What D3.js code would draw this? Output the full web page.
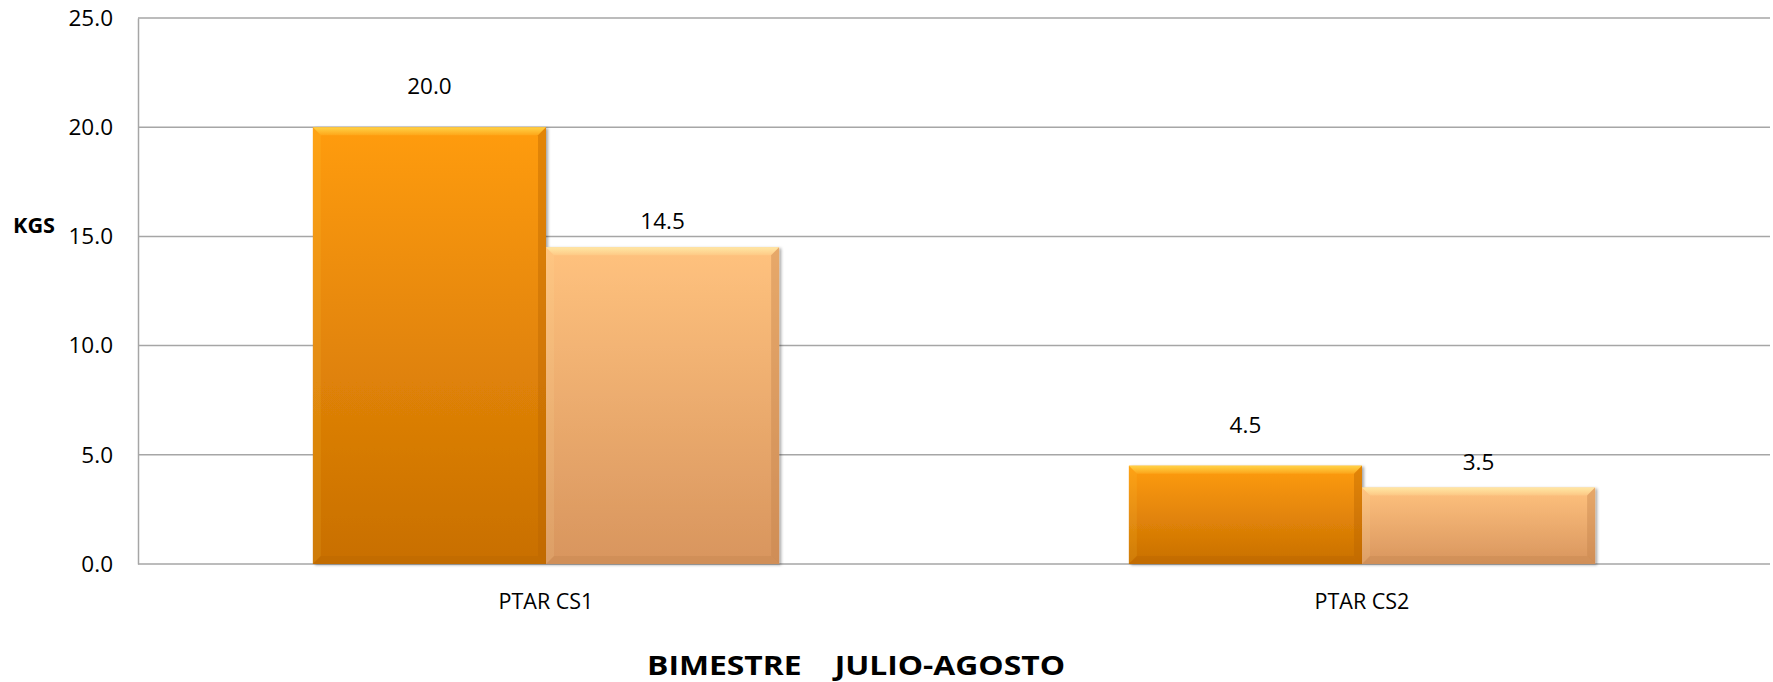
<!DOCTYPE html>
<html>
<head>
<meta charset="utf-8">
<script src="https://cdn.jsdelivr.net/npm/d3@7"></script>
<style>
  html, body { margin: 0; padding: 0; background: #fff; }
  svg { display: block; font-family: "Open Sans", sans-serif; }
</style>
</head>
<body>
<div id="chart"></div>
<script>
const categories = ["PTAR CS1", "PTAR CS2"];
const seriesA = [20.0, 4.5];
const seriesB = [14.5, 3.5];
const yTicks = [0, 5, 10, 15, 20, 25];

const width = 1773;
const height = 682;
const margin = {top: 18, right: 3, bottom: 118, left: 138};

const series = [
    {key: "a", values: seriesA, top: "#ff9c0e", bottom: "#c86f02", hi: "#ffd54a", edge: "#b86400", labelGap: 33},
    {key: "b", values: seriesB, top: "#ffc27e", bottom: "#d8955e", hi: "#ffe9a6", edge: "#c4834c", labelGap: 18}
];

const svg = d3.select("#chart").append("svg")
    .attr("width", width).attr("height", height)
    .attr("viewBox", [0, 0, width, height]);

const defs = svg.append("defs");
series.forEach(s => {
    const grad = defs.append("linearGradient")
        .attr("id", "grad-" + s.key)
        .attr("x1", 0).attr("y1", 0).attr("x2", 0).attr("y2", 1);
    grad.append("stop").attr("offset", "0%").attr("stop-color", s.top);
    grad.append("stop").attr("offset", "100%").attr("stop-color", s.bottom);

    const hiGrad = defs.append("linearGradient")
        .attr("id", "hi-" + s.key)
        .attr("x1", 0).attr("y1", 0).attr("x2", 0).attr("y2", 1);
    hiGrad.append("stop").attr("offset", "0%").attr("stop-color", s.hi).attr("stop-opacity", 0.95);
    hiGrad.append("stop").attr("offset", "100%").attr("stop-color", s.hi).attr("stop-opacity", 0.2);
});
defs.append("filter").attr("id", "shadow")
    .attr("x", "-5%").attr("y", "-5%").attr("width", "115%").attr("height", "115%")
    .append("feDropShadow")
    .attr("dx", 2).attr("dy", 1).attr("stdDeviation", 1.5)
    .attr("flood-color", "#000").attr("flood-opacity", 0.35);

const y = d3.scaleLinear()
    .domain([0, 25])
    .range([height - margin.bottom, margin.top]);

const x0 = d3.scaleBand()
    .domain(categories)
    .range([margin.left, width - margin.right])
    .paddingInner(0.4286)
    .paddingOuter(0.2143);

const x1 = d3.scaleBand()
    .domain(series.map(s => s.key))
    .range([0, x0.bandwidth()]);

// grid
svg.append("g")
    .selectAll("line")
    .data(yTicks)
    .join("line")
    .attr("x1", margin.left).attr("x2", width - margin.right)
    .attr("y1", d => y(d)).attr("y2", d => y(d))
    .attr("stroke", "#a6a6a6").attr("stroke-width", 1.5);

// y axis
const yAxis = svg.append("g")
    .attr("transform", `translate(${margin.left},0)`)
    .call(d3.axisLeft(y).tickValues(yTicks).tickFormat(d3.format(".1f")).tickSize(0).tickPadding(25));
yAxis.select(".domain").attr("stroke", "#a6a6a6").attr("stroke-width", 1.5);
yAxis.selectAll("text")
    .attr("font-family", "Open Sans, sans-serif")
    .attr("font-size", 22.5)
    .attr("fill", "#000");

svg.append("text")
    .attr("x", 13).attr("y", 233)
    .attr("font-size", 21).attr("font-weight", "bold")
    .attr("textLength", 42).attr("lengthAdjust", "spacingAndGlyphs")
    .text("KGS");

// bars
const bev = 8;
const groups = svg.append("g")
    .selectAll("g")
    .data(series)
    .join("g");

groups.each(function (s) {
    const g = d3.select(this);
    const bars = categories.map((c, i) => ({
        cat: c, value: s.values[i],
        x: x0(c) + x1(s.key), w: x1.bandwidth(),
        y: y(s.values[i]), h: y(0) - y(s.values[i])
    }));

    const bar = g.selectAll("g.bar").data(bars).join("g").attr("class", "bar");

    bar.append("rect")
        .attr("x", d => d.x).attr("y", d => d.y)
        .attr("width", d => d.w).attr("height", d => d.h)
        .attr("fill", `url(#grad-${s.key})`)
        .attr("filter", "url(#shadow)");

    // top bevel
    bar.append("path")
        .attr("d", d => `M${d.x},${d.y}L${d.x + d.w},${d.y}L${d.x + d.w - bev},${d.y + bev}L${d.x + bev},${d.y + bev}Z`)
        .attr("fill", `url(#hi-${s.key})`);
    // left bevel
    bar.append("path")
        .attr("d", d => `M${d.x},${d.y}L${d.x + bev},${d.y + bev}L${d.x + bev},${d.y + d.h - bev}L${d.x},${d.y + d.h}Z`)
        .attr("fill", s.hi).attr("opacity", 0.12);
    // right bevel
    bar.append("path")
        .attr("d", d => `M${d.x + d.w},${d.y}L${d.x + d.w - bev},${d.y + bev}L${d.x + d.w - bev},${d.y + d.h - bev}L${d.x + d.w},${d.y + d.h}Z`)
        .attr("fill", s.edge).attr("opacity", 0.4);
    // bottom bevel
    bar.append("path")
        .attr("d", d => `M${d.x},${d.y + d.h}L${d.x + bev},${d.y + d.h - bev}L${d.x + d.w - bev},${d.y + d.h - bev}L${d.x + d.w},${d.y + d.h}Z`)
        .attr("fill", s.edge).attr("opacity", 0.35);

    // value labels
    g.selectAll("text.val").data(bars).join("text")
        .attr("class", "val")
        .attr("x", d => d.x + d.w / 2)
        .attr("y", d => d.y - s.labelGap)
        .attr("text-anchor", "middle")
        .attr("font-size", 22.5)
        .text(d => d3.format(".1f")(d.value));
});

// category labels
svg.append("g")
    .selectAll("text")
    .data(categories)
    .join("text")
    .attr("x", d => x0(d) + x0.bandwidth() / 2)
    .attr("y", 609)
    .attr("text-anchor", "middle")
    .attr("font-size", 21.5)
    .text(d => d);

// title
svg.append("text")
    .attr("x", 856).attr("y", 675)
    .attr("text-anchor", "middle")
    .attr("font-size", 26).attr("font-weight", "bold")
    .attr("textLength", 418).attr("lengthAdjust", "spacingAndGlyphs")
    .style("white-space", "pre")
    .text("BIMESTRE    JULIO-AGOSTO");
</script>
</body>
</html>
